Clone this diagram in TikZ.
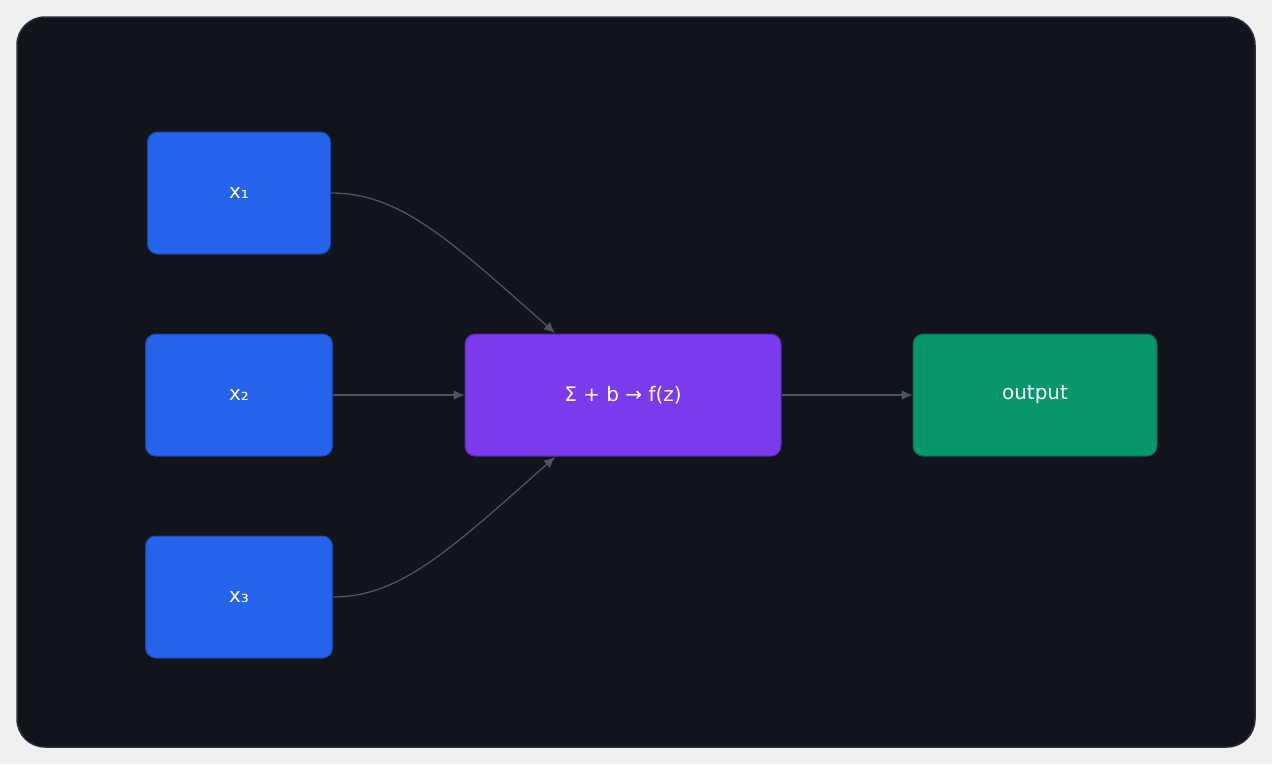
\documentclass[tikz,border=0pt]{standalone}
\usepackage{fontspec}
\setmainfont{DejaVu Sans}
\usetikzlibrary{arrows.meta,positioning}
\definecolor{cardbg}{HTML}{12141B}
\definecolor{cardline}{HTML}{2A2E3A}
\definecolor{inblue}{HTML}{2563EB}
\definecolor{sumpurple}{HTML}{7C3AED}
\definecolor{outgreen}{HTML}{059669}
\definecolor{wire}{HTML}{4B5563}
\tikzset{
  box/.style={rounded corners=10pt, draw=#1!70!black, fill=#1, text=white,
    font=\fontsize{20}{24}\selectfont, minimum height=122pt, line width=1pt},
  link/.style={draw=wire, line width=1.3pt, -{Latex[length=11pt,width=10pt]}}
}
\begin{document}
\begin{tikzpicture}[x=1pt,y=-1pt]
  % Rahmen
  \fill[white!94!black] (0,0) rectangle (1272,764);
  \draw[cardline, fill=cardbg, line width=1.5pt, rounded corners=28pt] (17,17) rectangle (1255,747);
  % Eingänge
  \node[box=inblue, minimum width=183pt] (x1) at (239,193) {x₁};
  \node[box=inblue, minimum width=187pt] (x2) at (239,395) {x₂};
  \node[box=inblue, minimum width=187pt] (x3) at (239,597) {x₃};
  % Neuron und Ausgabe
  \node[box=sumpurple, minimum width=316pt] (sum) at (623,395) {Σ + b → f(z)};
  \node[box=outgreen, minimum width=244pt] (out) at (1035,395) {output};
  % Verbindungen
  \coordinate (in1) at (555,333);
  \coordinate (in3) at (555,457);
  \draw[link] (x1.east) .. controls (400,193) and (450,240) .. (in1);
  \draw[link] (x2.east) -- (sum.west);
  \draw[link] (x3.east) .. controls (400,597) and (450,550) .. (in3);
  \draw[link] (sum.east) -- (out.west);
\end{tikzpicture}
\end{document}
